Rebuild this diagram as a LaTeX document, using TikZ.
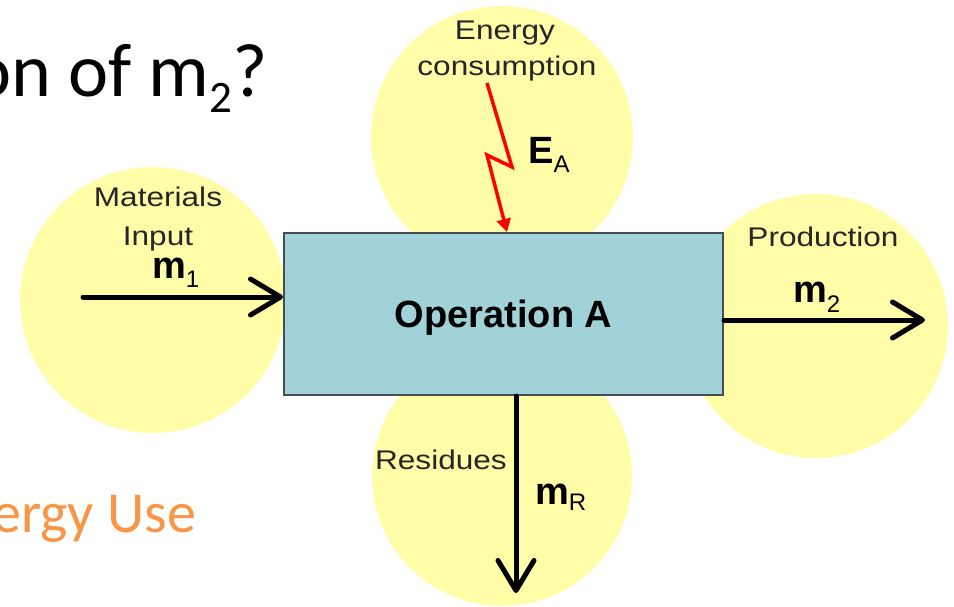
\documentclass[tikz,border=0pt]{standalone}
\usepackage{fontspec}
\usetikzlibrary{arrows.meta}
\newfontfamily\lbl[FakeStretch=1.17]{Liberation Sans}
\newfontfamily\lblb{Liberation Sans}
\newfontfamily\slide{Carlito}
\definecolor{disk}{RGB}{255,253,168}
\definecolor{opfill}{RGB}{160,210,215}
\definecolor{opline}{RGB}{70,78,82}
\definecolor{slideorange}{RGB}{247,150,70}
\tikzset{
  zone/.style={circle, fill=disk, draw=none, inner sep=0pt},
  opbox/.style={rectangle, fill=opfill, draw=opline, line width=2pt,
    minimum width=439pt, minimum height=162pt, inner sep=0pt,
    text height=27pt, text depth=0pt,
    font=\lblb\bfseries\fontsize{38}{38}\selectfont},
  tag/.style={inner sep=0pt, anchor=base, text=black!85,
    font=\lbl\fontsize{27}{27}\selectfont},
  qty/.style={inner sep=0pt, anchor=base west, text=black,
    font=\lblb\bfseries\fontsize{38}{38}\selectfont},
  flow/.style={line width=5pt, line cap=round,
    -{Straight Barb[length=30pt, width=36pt, line cap=round, line join=round]}},
  bolt/.style={red, line width=3.5pt, -{Triangle[length=13pt, width=14pt]}}
}
\newcommand{\sub}[2]{\raisebox{-#1pt}{\lblb\mdseries\fontsize{24}{24}\selectfont #2}}
\begin{document}
\begin{tikzpicture}[x=1pt, y=-1pt]
\useasboundingbox (0,0) rectangle (954,606);
\clip (0,0) rectangle (954,606);
\fill[white] (0,0) rectangle (954,606);

% slide text around the figure
\node[inner sep=0pt, anchor=base west, font=\slide\fontsize{76}{76}\selectfont]
  (title) at (-29,96) {on of m\raisebox{-16pt}{\fontsize{45}{45}\selectfont 2}?};
\node[inner sep=0pt, anchor=base west, text=slideorange,
  font=\slide\fontsize{58}{58}\selectfont] (usage) at (-8,532) {ergy Use};

% yellow zones
\node[zone, minimum size=262pt] (zTop) at (502,137) {};
\node[zone, minimum size=266pt] (zLeft) at (153,300) {};
\node[zone, minimum size=264pt] (zRight) at (816,326) {};
\node[zone, minimum size=260pt] (zBottom) at (502,476) {};

% the operation
\node[opbox] (op) at (503.5,314) {Operation A};

% energy input (lightning)
\coordinate (b0) at (487,83);
\coordinate (b1) at (512,167);
\coordinate (b2) at (487,155);
\coordinate (b3) at (507,232);
\draw[bolt] (b0) -- (b1) -- (b2) -- (b3);

% material flows
\coordinate (inStart) at (83,297);
\draw[flow] (inStart) -- (inStart -| op.west);
\coordinate (outEnd) at (925,320);
\draw[flow] (outEnd -| op.east) -- (outEnd);
\coordinate (resEnd) at (516,593);
\draw[flow] (resEnd |- op.south) -- (resEnd);

% labels
\node[tag] (tEnergy) at (505,39) {Energy};
\node[tag] (tCons) at (507,75) {consumption};
\node[tag] (tMat) at (158,206) {Materials};
\node[tag] (tIn) at (158,245) {Input};
\node[tag] (tProd) at (823,246) {Production};
\node[tag, anchor=base east] (tRes) at (507,469) {Residues};

\node[qty] (qEA) at (528,163) {E\sub{9}{A}};
\node[qty] (qm1) at (152,278) {m\sub{9}{1}};
\node[qty] (qm2) at (793,302) {m\sub{10}{2}};
\node[qty] (qmR) at (535,504) {m\sub{6}{R}};
\end{tikzpicture}
\end{document}
